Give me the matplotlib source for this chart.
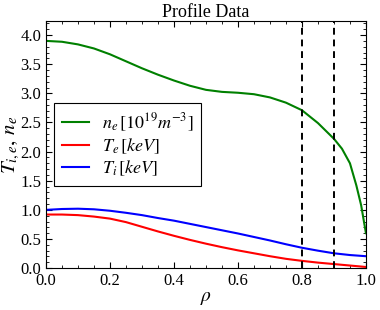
import matplotlib
matplotlib.use('Agg')
import matplotlib.pyplot as plt

plt.rcParams['font.family'] = ['Liberation Serif', 'DejaVu Serif']
plt.rcParams['mathtext.fontset'] = 'stix'

rho = [0.0, 0.05, 0.1, 0.15, 0.2, 0.25, 0.3, 0.35, 0.4, 0.45, 0.5,
       0.55, 0.6, 0.65, 0.7, 0.75, 0.8, 0.85, 0.9, 0.95, 1.0]
te = [0.92, 0.92, 0.91, 0.885, 0.85, 0.79, 0.71, 0.63, 0.555, 0.485, 0.42,
      0.36, 0.305, 0.255, 0.205, 0.16, 0.125, 0.095, 0.07, 0.045, 0.02]
ti = [1.00, 1.015, 1.02, 1.01, 0.985, 0.95, 0.91, 0.86, 0.815, 0.76, 0.705,
      0.65, 0.595, 0.535, 0.475, 0.41, 0.35, 0.30, 0.255, 0.225, 0.205]

rho_n = [0.0, 0.05, 0.1, 0.15, 0.2, 0.25, 0.3, 0.35, 0.4, 0.45, 0.5, 0.55,
         0.6, 0.65, 0.7, 0.75, 0.8, 0.85, 0.9, 0.925, 0.95, 0.97, 0.985, 1.0]
ne = [3.90, 3.885, 3.84, 3.77, 3.67, 3.55, 3.43, 3.32, 3.22, 3.13, 3.06, 3.025,
      3.01, 2.985, 2.93, 2.84, 2.71, 2.49, 2.22, 2.05, 1.80, 1.42, 1.08, 0.6]

vlines = [0.8, 0.9]

fig = plt.figure(figsize=(3.8, 3.1), dpi=100)
ax = fig.add_axes([0.121, 0.135, 0.842, 0.797])

ax.plot(rho_n, ne, color='green', lw=1.5, label=r'$n_e\,[10^{19}m^{-3}]$')
ax.plot(rho, te, color='red', lw=1.5, label=r'$T_e\,[keV]$')
ax.plot(rho, ti, color='blue', lw=1.5, label=r'$T_i\,[keV]$')
for v in vlines:
    ax.axvline(v, color='black', ls='--', lw=1.4, dashes=(3.5, 2.5))

ax.set_xlim(0, 1)
ax.set_ylim(0, 4.24)
ax.set_xticks([0.0, 0.2, 0.4, 0.6, 0.8, 1.0])
ax.set_yticks([0.0, 0.5, 1.0, 1.5, 2.0, 2.5, 3.0, 3.5, 4.0])
ax.minorticks_on()
ax.tick_params(which='both', direction='in', top=True, right=True, labelsize=12)
ax.tick_params(which='major', length=4)
ax.tick_params(which='minor', length=2)

ax.set_title('Profile Data', fontsize=13, pad=2)
ax.set_xlabel(r'$\rho$', fontsize=14, labelpad=1)
ax.set_ylabel(r'$T_{i,e},\,n_e$', fontsize=15, labelpad=-1)

leg = ax.legend(loc='lower left', bbox_to_anchor=(0.025, 0.332), fontsize=13,
                fancybox=False, framealpha=1, edgecolor='black',
                handlelength=1.5, handletextpad=0.7, labelspacing=0.15,
                borderpad=0.45, borderaxespad=0)
leg.get_frame().set_linewidth(0.8)

fig.savefig('out.png', dpi=100)
